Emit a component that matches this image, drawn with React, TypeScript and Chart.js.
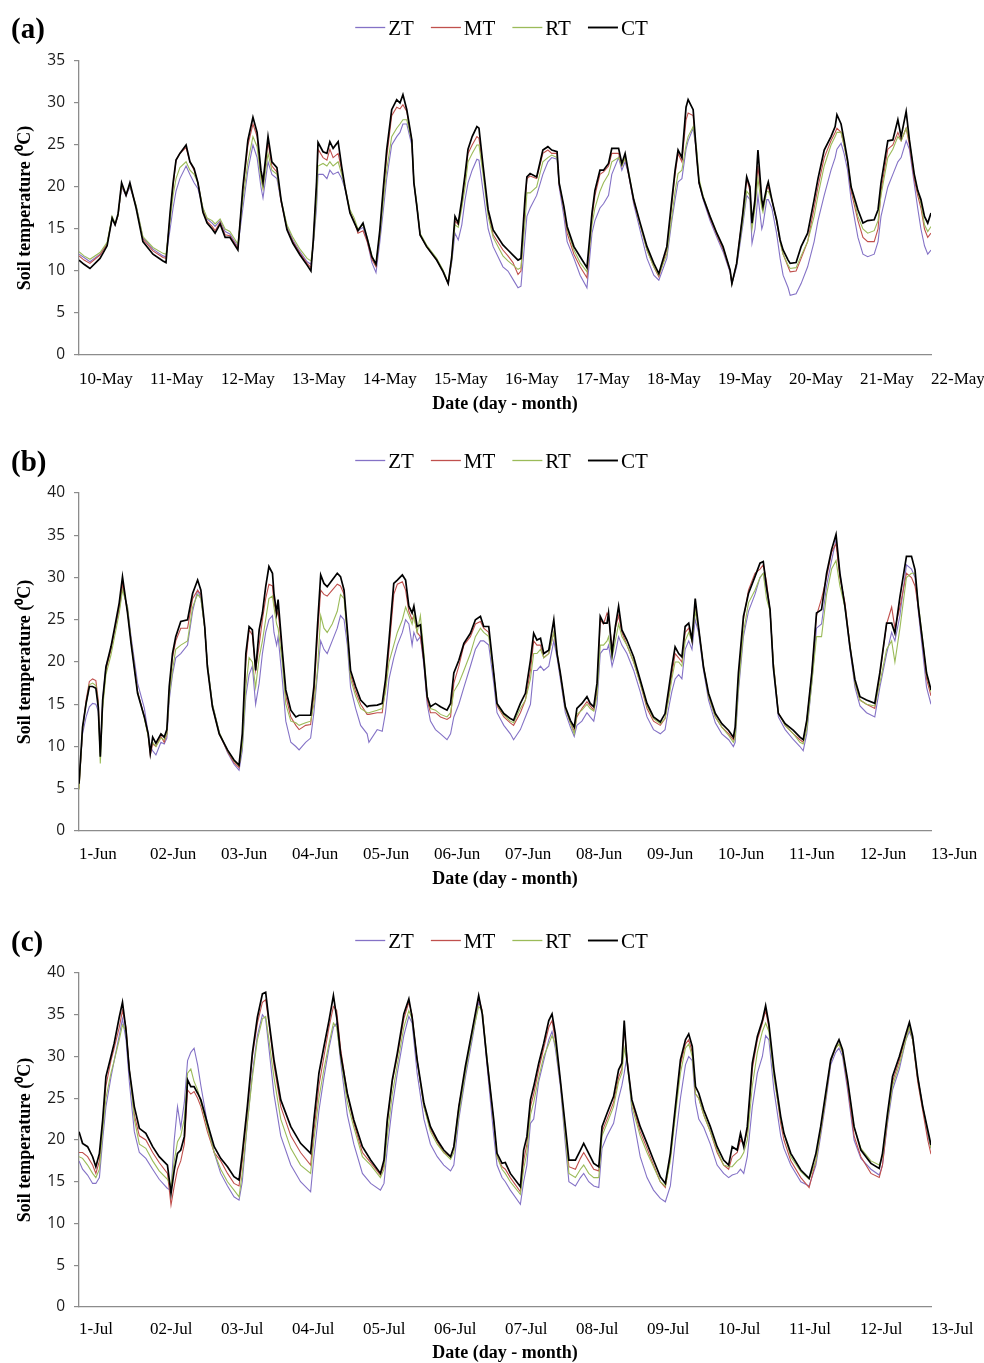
import React, { useEffect, useRef } from "react";
import { Chart, registerables } from "chart.js";

Chart.register(...registerables);

// ---------- shared ----------
const SERIES = ["ZT", "MT", "RT", "CT"];
const COLORS = ["#8472C6", "#C0504D", "#9BBB59", "#000000"];
const WIDTHS = [1.1, 1.1, 1.1, 1.7];
const Y_TITLE = "Soil temperature (\u2070C)";
const X_TITLE = "Date (day - month)";

// ---------- panel (a) ----------
const DATES_A = ["10-May", "11-May", "12-May", "13-May", "14-May", "15-May", "16-May", "17-May", "18-May", "19-May", "20-May", "21-May", "22-May"];
const HOURS_A = [
  0, 1.7, 3.7, 7.1, 9.5, 11.2, 12.2, 13.2, 14.4, 15.9,
  17.2, 19.3, 21.6, 25, 28.4, 29.4, 30.8, 31.8, 32.8, 34.1,
  36.2, 37.5, 38.9, 40.2, 41.9, 43.3, 45, 46, 47.7, 49.4,
  51, 53.7, 55.4, 57.1, 58.8, 60.2, 61.5, 62.2, 63.9, 65.2,
  66.9, 68.3, 70.3, 72.3, 74.7, 77.1, 78.4, 79.2, 80.3, 80.8,
  82.5, 83.8, 84.8, 85.9, 87.6, 88.8, 89.9, 91.6, 93, 94.3,
  96, 97.4, 99, 100.4, 101.7, 102.8, 104, 105.7, 107.4, 108.5,
  109.5, 110.8, 112.5, 113.2, 114.2, 115.3, 117.5, 120.9, 123.1, 124.8,
  126, 127.1, 128.2, 129.4, 130.5, 131.5, 132.9, 134.5, 135.2, 136.6,
  138.3, 140, 143.3, 145, 146.7, 148.4, 149.4, 150.8, 151.4, 152.5,
  154.7, 156.8, 158.5, 159.8, 161.6, 162.3, 163.9, 165, 167.3, 169.4,
  171.7, 173.4, 174.4, 176.1, 177.3, 179, 180.1, 182.4, 183.5, 184.6,
  185.8, 187.5, 189.7, 192, 194.3, 196, 198.7, 200.4, 201.5, 202.5,
  203.8, 205.2, 205.9, 207.6, 208.8, 209.6, 210.9, 213.3, 215.6, 217.7,
  220.1, 220.7, 222.3, 224.4, 225.7, 226.8, 227.5, 228.5, 229.5, 230.8,
  231.2, 232.5, 233, 234.2, 235.8, 237, 238, 239.7, 240.4, 242.4,
  244.1, 246.3, 248.5, 249.8, 251.9, 254.2, 255.6, 256.2, 257.6, 258.6,
  259.8, 261, 263.3, 265, 266.6, 268.8, 270.1, 271.1, 273.4, 275.1,
  276.8, 277.9, 279.6, 280.7, 282.3, 283.5, 284.6, 285.8, 286.9, 288,
];
const CT_A = [
  11.3, 10.8, 10.3, 11.5, 13.0, 16.3, 15.5, 16.8, 20.5, 19.0,
  20.5, 17.5, 13.5, 12.0, 11.2, 11.0, 17.0, 20.5, 23.2, 24.0,
  25.0, 23.0, 22.2, 20.5, 17.0, 15.7, 15.0, 14.5, 15.6, 14.0,
  14.0, 12.5, 20.0, 25.6, 28.3, 26.5, 22.0, 20.6, 26.0, 23.0,
  22.3, 18.5, 14.9, 13.3, 11.9, 10.7, 10.0, 13.7, 20.6, 25.3,
  24.2, 24.0, 25.4, 24.6, 25.4, 22.4, 20.0, 16.9, 15.8, 14.8,
  15.7, 13.9, 11.7, 10.8, 14.9, 19.6, 24.4, 29.2, 30.4, 30.0,
  31.0, 29.2, 25.6, 20.5, 17.7, 14.3, 12.9, 11.3, 9.9, 8.5,
  11.7, 16.5, 15.7, 18.5, 21.5, 24.5, 26.0, 27.2, 27.0, 22.5,
  17.3, 14.9, 13.1, 12.5, 11.9, 11.3, 11.5, 18.8, 21.2, 21.6,
  21.2, 24.4, 24.8, 24.4, 24.2, 20.5, 17.7, 15.3, 12.9, 11.7,
  10.4, 16.9, 19.6, 22.0, 22.0, 22.8, 24.6, 24.6, 22.8, 24.0,
  21.6, 18.5, 15.7, 12.9, 10.9, 9.7, 12.9, 18.5, 22.0, 24.4,
  23.5, 29.5, 30.4, 29.2, 23.6, 20.5, 18.8, 16.5, 14.5, 12.9,
  10.1, 8.5, 10.9, 16.9, 21.2, 20.0, 15.7, 18.5, 24.4, 18.5,
  17.7, 20.0, 20.6, 18.5, 16.1, 13.7, 12.5, 11.3, 10.9, 11.0,
  12.9, 14.5, 18.5, 21.0, 24.4, 26.0, 27.2, 28.6, 27.5, 25.6,
  23.2, 20.0, 17.3, 15.7, 16.0, 16.1, 17.3, 20.5, 25.5, 25.6,
  28.0, 26.0, 29.0, 25.6, 21.6, 19.6, 18.5, 16.5, 15.7, 16.9,
];
const MT_A = [
  11.8, 11.3, 10.9, 11.9, 13.2, 16.3, 15.5, 16.6, 20.2, 19.0,
  20.3, 17.6, 13.8, 12.4, 11.6, 11.5, 16.5, 20.0, 23.2, 24.0,
  24.7, 23.0, 22.0, 20.5, 17.2, 15.9, 15.3, 14.8, 15.8, 14.3,
  14.2, 12.7, 19.5, 25.0, 27.5, 26.0, 21.5, 20.0, 25.3, 22.5,
  21.8, 18.3, 15.0, 13.5, 12.1, 10.9, 10.4, 13.5, 20.0, 24.5,
  23.5, 23.2, 24.5, 23.5, 24.0, 22.0, 20.0, 17.0, 15.9, 14.5,
  14.8, 13.5, 11.4, 10.5, 14.5, 19.0, 23.5, 28.5, 29.5, 29.3,
  29.8, 29.0, 25.5, 20.5, 17.7, 14.3, 12.9, 11.3, 9.9, 8.5,
  11.5, 16.0, 15.5, 18.0, 21.0, 24.0, 25.0, 26.0, 25.8, 22.0,
  17.0, 14.3, 12.5, 11.8, 11.0, 9.6, 10.0, 18.0, 21.0, 21.3,
  21.0, 24.0, 24.4, 24.0, 24.0, 20.3, 17.3, 14.5, 12.0, 10.5,
  9.2, 16.3, 19.0, 21.5, 21.8, 22.5, 24.0, 24.0, 22.5, 23.5,
  21.5, 18.3, 15.5, 12.5, 10.5, 9.3, 12.5, 18.0, 21.5, 24.0,
  23.0, 28.0, 28.8, 28.5, 23.5, 20.5, 18.8, 16.3, 14.3, 12.6,
  10.0, 8.5, 10.9, 16.9, 21.0, 19.5, 15.5, 18.0, 22.5, 18.0,
  17.5, 19.8, 20.0, 18.5, 16.0, 13.5, 12.0, 10.5, 9.9, 10.0,
  11.5, 13.5, 17.5, 20.0, 23.5, 25.5, 26.5, 27.0, 26.5, 25.0,
  23.0, 19.5, 16.0, 14.0, 13.5, 13.5, 15.0, 19.5, 24.5, 25.0,
  26.5, 25.5, 27.0, 25.0, 21.0, 19.0, 17.5, 15.0, 14.0, 14.5,
];
const RT_A = [
  12.3, 11.8, 11.4, 12.2, 13.4, 16.5, 15.7, 16.6, 20.2, 19.2,
  20.2, 17.8, 14.1, 12.8, 12.1, 12.0, 16.0, 19.0, 21.0, 22.3,
  23.0, 22.0, 21.5, 20.5, 17.5, 16.3, 16.0, 15.6, 16.2, 15.0,
  14.7, 13.2, 18.5, 23.0, 26.0, 24.8, 21.0, 19.8, 24.0, 22.0,
  21.5, 18.5, 15.5, 14.0, 12.6, 11.5, 11.2, 13.2, 18.5, 22.5,
  22.8, 22.5, 23.0, 22.5, 23.0, 21.5, 20.0, 17.3, 16.3, 15.0,
  15.5, 14.0, 11.8, 10.8, 14.3, 18.0, 22.0, 26.0, 27.0, 27.5,
  28.0, 28.0, 25.5, 20.8, 18.0, 14.5, 13.1, 11.5, 10.1, 8.6,
  11.3, 15.5, 15.2, 17.5, 20.0, 23.0, 24.0, 25.0, 25.0, 21.5,
  16.5, 14.0, 11.8, 11.2, 10.7, 10.2, 10.4, 16.0, 19.3, 19.3,
  20.0, 23.0, 23.5, 23.8, 23.5, 20.5, 17.5, 15.0, 12.5, 11.0,
  9.9, 15.5, 17.5, 19.5, 20.5, 21.5, 23.0, 23.5, 22.5, 23.5,
  21.8, 18.5, 15.5, 12.5, 10.5, 9.5, 12.0, 16.5, 19.5, 21.6,
  22.0, 25.0, 26.0, 27.2, 24.5, 21.0, 19.0, 16.5, 14.5, 12.8,
  10.1, 8.5, 10.8, 16.0, 19.5, 19.0, 15.0, 17.5, 21.0, 17.5,
  17.0, 19.5, 19.5, 18.5, 16.0, 13.5, 12.0, 10.7, 10.3, 10.4,
  11.8, 13.5, 16.5, 19.0, 22.5, 25.0, 26.0, 26.5, 26.5, 25.0,
  23.0, 20.0, 16.5, 15.0, 14.5, 14.8, 16.0, 19.0, 23.5, 24.5,
  26.0, 25.5, 27.0, 25.5, 21.5, 19.5, 18.0, 15.5, 14.7, 15.3,
];
const ZT_A = [
  12.0, 11.6, 11.1, 12.0, 13.2, 16.3, 15.5, 16.6, 20.0, 19.0,
  20.0, 17.8, 14.0, 12.6, 11.8, 11.7, 15.0, 17.5, 19.5, 21.0,
  22.5, 21.5, 20.5, 19.8, 17.5, 16.2, 15.7, 15.3, 16.0, 14.7,
  14.4, 12.9, 17.5, 22.0, 25.0, 23.5, 20.0, 18.7, 23.0, 21.5,
  21.0, 18.3, 15.3, 13.7, 12.3, 11.1, 10.8, 13.0, 17.5, 21.5,
  21.5, 21.0, 22.0, 21.5, 21.8, 21.0, 19.8, 17.0, 16.0, 14.8,
  15.2, 13.6, 11.0, 9.8, 13.5, 17.0, 21.0, 25.0, 26.0, 26.5,
  27.5, 27.5, 25.0, 20.5, 17.8, 14.3, 13.0, 11.4, 10.0, 8.5,
  11.0, 14.5, 13.7, 15.5, 18.5, 20.5, 22.0, 23.3, 23.2, 19.5,
  15.0, 12.9, 10.5, 10.0, 9.0, 8.0, 8.2, 14.0, 16.5, 17.5,
  19.0, 21.5, 23.0, 23.5, 23.3, 20.0, 16.5, 13.5, 11.5, 9.5,
  8.0, 14.5, 16.0, 17.5, 18.0, 19.0, 21.5, 23.5, 22.0, 23.0,
  21.5, 18.0, 14.8, 11.5, 9.5, 8.9, 11.5, 16.0, 18.5, 20.6,
  21.0, 24.5, 25.5, 27.0, 24.0, 20.5, 18.6, 16.0, 14.0, 12.3,
  9.8, 8.5, 10.5, 15.5, 19.0, 18.5, 13.3, 15.0, 19.0, 15.0,
  15.5, 18.5, 18.5, 17.5, 14.5, 11.5, 9.5, 8.0, 7.1, 7.3,
  8.5, 10.5, 13.5, 16.0, 19.0, 22.0, 23.5, 24.5, 25.2, 24.0,
  22.0, 18.5, 14.0, 12.0, 11.7, 12.0, 13.5, 16.5, 20.0, 21.5,
  23.0, 23.5, 25.5, 24.5, 20.5, 17.5, 15.0, 13.0, 12.0, 12.5,
];

// ---------- panel (b) ----------
const DATES_B = ["1-Jun", "02-Jun", "03-Jun", "04-Jun", "05-Jun", "06-Jun", "07-Jun", "08-Jun", "09-Jun", "10-Jun", "11-Jun", "12-Jun", "13-Jun"];
const HOURS_B = [
  0, 1.2, 2.4, 3.5, 4.6, 5.7, 6.5, 7.2, 8, 9.1,
  10.8, 11.9, 13.6, 14.7, 16.4, 17.6, 19.8, 22.1, 23.4, 24.1,
  24.9, 26, 27.7, 28.8, 29.7, 30.5, 31.6, 32.7, 34.4, 36.7,
  38.4, 40.1, 41.2, 42.5, 43.4, 45.1, 47.4, 50.2, 52.4, 54.1,
  55.2, 56.4, 57.5, 58.6, 59.7, 60.9, 62, 63.1, 64.2, 65.4,
  65.9, 66.8, 67.3, 68.7, 69.9, 71.6, 73.3, 74.4, 76.6, 78.3,
  79.4, 80.6, 81.7, 82.8, 83.9, 85.6, 87.3, 88.4, 89.6, 90.7,
  91.8, 93.5, 95.2, 97.4, 98, 100.8, 102.5, 103.6, 104.8, 106.4,
  107.6, 109.3, 110.4, 111.5, 112.6, 113.2, 114.3, 115.4, 116.6, 117.7,
  118.8, 120.5, 122.2, 124.4, 125.6, 126.7, 128.4, 130.1, 132.3, 134,
  135.7, 136.8, 138.5, 140.2, 141.3, 143.6, 145.8, 146.9, 149.2, 150.9,
  152.6, 153.7, 154.8, 156, 157.1, 158.8, 160.5, 161.6, 162.7, 164.4,
  166.1, 167.4, 168.3, 170, 171.7, 172.8, 174, 175.1, 176.2, 177.3,
  178.5, 179, 180.2, 181.3, 182.4, 183.5, 185.2, 187.5, 189.7, 192,
  194.2, 196.5, 198.1, 199.3, 200.4, 201.5, 202.7, 203.8, 204.9, 206.1,
  207.2, 208.3, 209.4, 211.1, 212.8, 215.1, 217.3, 219.6, 221.2, 221.8,
  222.9, 224.6, 226.3, 228.5, 230.2, 231.3, 232.4, 233.6, 234.7, 236.4,
  238.7, 241.5, 243.7, 244.8, 246, 247.7, 249.3, 251, 252.7, 254.4,
  255.9, 257.2, 258.9, 260.6, 262.3, 264, 266.2, 269, 270.7, 273,
  274.7, 275.8, 277.5, 279.7, 281.4, 282.6, 283.7, 285.4, 286.5, 288,
];
const CT_B = [
  5.6, 12.3, 15.1, 17.1, 17.1, 16.9, 14.7, 8.8, 15.5, 19.4,
  21.8, 23.8, 27.0, 30.1, 25.8, 22.2, 16.3, 13.5, 11.5, 9.2,
  11.1, 10.4, 11.5, 11.1, 12.0, 17.1, 21.0, 23.0, 24.8, 25.0,
  28.1, 29.7, 28.5, 24.2, 19.4, 14.7, 11.5, 9.6, 8.4, 7.8,
  11.5, 21.0, 24.2, 23.8, 19.0, 23.8, 25.8, 28.9, 31.3, 30.5,
  28.1, 25.8, 27.4, 21.4, 16.7, 14.3, 13.5, 13.7, 13.7, 13.7,
  17.1, 24.2, 30.3, 29.3, 28.9, 29.7, 30.5, 30.1, 28.5, 23.8,
  19.0, 17.1, 15.5, 14.7, 14.8, 14.9, 15.1, 17.9, 22.6, 29.3,
  29.7, 30.3, 29.7, 26.6, 25.8, 26.6, 24.2, 24.4, 20.2, 15.9,
  14.7, 15.1, 14.7, 14.3, 15.1, 18.7, 20.2, 22.2, 23.4, 25.0,
  25.4, 24.2, 24.2, 18.7, 15.1, 13.9, 13.3, 13.1, 15.1, 16.3,
  20.2, 23.4, 22.6, 22.8, 21.0, 21.4, 25.0, 21.0, 18.7, 14.7,
  13.1, 12.3, 14.5, 15.1, 15.9, 15.1, 14.7, 17.5, 25.4, 24.6,
  24.6, 25.8, 21.0, 24.2, 26.6, 23.8, 22.6, 20.6, 17.9, 15.1,
  13.5, 12.9, 13.9, 16.7, 19.4, 21.8, 21.0, 20.6, 24.2, 24.6,
  22.6, 27.5, 24.2, 19.4, 16.3, 13.9, 12.7, 11.9, 11.1, 12.3,
  18.7, 25.4, 28.1, 30.1, 31.7, 31.9, 28.9, 26.2, 19.4, 13.9,
  12.7, 11.9, 11.1, 10.8, 13.1, 18.7, 25.8, 26.2, 30.5, 33.3,
  35.1, 30.5, 26.6, 21.8, 17.9, 15.9, 15.5, 15.1, 18.7, 24.6,
  24.6, 23.4, 27.7, 32.5, 32.5, 30.9, 26.6, 21.8, 18.7, 16.7,
];
const MT_B = [
  5.0, 12.0, 15.5, 17.7, 18.0, 17.8, 15.5, 9.2, 15.0, 19.0,
  21.5, 23.5, 26.5, 29.2, 26.0, 22.5, 16.5, 13.5, 11.3, 9.0,
  10.3, 10.0, 11.2, 10.5, 11.5, 16.5, 20.5, 22.5, 24.0, 24.0,
  27.5, 28.5, 28.0, 24.0, 19.5, 14.7, 11.5, 9.4, 8.1, 7.5,
  11.0, 20.0, 23.8, 23.2, 19.0, 22.0, 25.0, 27.5, 29.2, 29.0,
  27.0, 25.5, 26.0, 21.0, 16.0, 13.5, 12.5, 12.0, 12.5, 12.6,
  16.0, 23.0, 28.5, 28.0, 27.8, 28.5, 29.2, 29.0, 28.0, 23.5,
  18.5, 16.5, 15.0, 13.8, 13.8, 14.0, 14.0, 17.0, 21.5, 28.0,
  29.2, 29.5, 28.5, 26.0, 25.0, 25.5, 23.5, 23.0, 20.0, 15.5,
  14.0, 14.0, 13.5, 13.2, 13.5, 17.5, 19.5, 22.0, 23.0, 24.5,
  24.8, 24.0, 23.5, 18.5, 14.8, 13.5, 12.8, 12.5, 14.0, 15.5,
  19.0, 22.5, 22.0, 22.0, 20.5, 21.0, 23.5, 21.0, 18.5, 14.5,
  12.8, 11.8, 13.5, 14.5, 15.3, 14.8, 14.3, 16.5, 25.0, 24.5,
  25.8, 25.5, 21.5, 24.0, 25.5, 23.5, 22.0, 20.0, 17.5, 14.5,
  13.0, 12.5, 13.3, 16.0, 18.5, 21.0, 20.5, 20.0, 23.5, 24.0,
  22.5, 26.5, 24.0, 19.5, 16.0, 13.5, 12.3, 11.5, 10.8, 11.5,
  18.0, 25.0, 28.5, 30.5, 31.0, 31.5, 29.5, 26.0, 20.0, 14.0,
  12.5, 11.5, 10.8, 10.5, 13.0, 18.5, 25.5, 27.5, 30.0, 33.0,
  34.0, 30.0, 27.0, 22.0, 17.5, 15.5, 15.0, 14.5, 18.5, 24.5,
  26.5, 24.0, 26.5, 30.5, 30.0, 29.0, 26.5, 21.5, 18.0, 16.0,
];
const RT_B = [
  4.9, 12.0, 15.0, 17.3, 17.5, 17.2, 15.0, 8.0, 14.5, 18.5,
  20.8, 22.8, 25.8, 28.5, 26.5, 22.5, 16.5, 13.3, 11.2, 9.5,
  10.5, 10.0, 11.0, 10.8, 11.5, 16.0, 19.0, 21.5, 22.0, 22.5,
  26.5, 28.0, 27.5, 24.0, 19.8, 15.0, 11.7, 9.5, 8.3, 7.7,
  10.0, 17.0, 20.5, 20.0, 17.0, 20.5, 22.5, 25.0, 27.5, 27.8,
  26.5, 24.5, 24.0, 20.0, 15.0, 13.0, 12.8, 12.5, 12.8, 13.0,
  15.0, 19.0, 25.5, 24.0, 23.5, 24.5, 26.0, 28.0, 27.5, 23.0,
  18.0, 16.0, 14.5, 14.0, 14.0, 14.3, 14.5, 16.5, 20.0, 22.0,
  23.5, 25.0, 26.5, 25.5, 24.5, 25.5, 23.5, 25.5, 21.0, 16.0,
  14.5, 14.3, 13.8, 13.5, 14.0, 16.5, 17.5, 19.0, 21.0, 23.0,
  24.0, 23.5, 23.0, 18.5, 15.0, 13.7, 13.0, 12.8, 14.5, 15.5,
  18.0, 21.0, 21.0, 21.5, 20.5, 21.0, 23.5, 21.0, 18.5, 14.5,
  12.8, 11.5, 13.8, 14.3, 15.0, 14.5, 14.2, 16.0, 22.0, 22.0,
  22.5, 23.0, 20.5, 22.5, 24.5, 23.0, 22.0, 20.0, 17.5, 14.8,
  13.3, 12.7, 13.3, 15.5, 18.0, 20.0, 20.0, 19.5, 22.5, 23.5,
  22.5, 26.0, 24.0, 19.5, 16.0, 13.5, 12.3, 11.3, 10.5, 11.0,
  17.0, 23.5, 27.0, 28.5, 30.0, 30.5, 27.5, 26.0, 20.0, 14.0,
  12.5, 11.5, 10.5, 10.3, 12.0, 17.5, 23.0, 23.0, 28.0, 31.0,
  32.0, 29.0, 26.5, 22.0, 17.5, 15.5, 15.0, 14.8, 17.5, 21.5,
  22.5, 20.0, 24.0, 30.0, 30.5, 30.5, 27.0, 22.0, 18.5, 16.5,
];
const ZT_B = [
  5.5, 11.5, 13.5, 14.7, 15.1, 15.0, 14.2, 9.5, 15.5, 19.5,
  21.5, 23.5, 26.2, 28.8, 26.5, 23.0, 17.5, 14.5, 11.5, 10.0,
  9.5, 9.0, 10.5, 10.3, 11.0, 15.5, 18.5, 20.5, 21.0, 22.0,
  26.0, 28.5, 27.5, 24.0, 19.8, 15.0, 11.7, 9.3, 7.9, 7.2,
  9.5, 16.0, 18.5, 19.5, 15.0, 17.5, 21.0, 23.5, 25.0, 25.5,
  23.5, 22.0, 23.0, 18.0, 13.0, 10.5, 10.0, 9.6, 10.5, 11.0,
  14.0, 18.5, 22.5, 21.5, 21.0, 22.5, 24.0, 25.5, 25.0, 22.0,
  17.0, 14.5, 12.5, 11.5, 10.5, 12.0, 11.8, 14.0, 18.0, 20.5,
  22.0, 23.5, 25.0, 24.5, 22.0, 23.5, 22.5, 23.0, 19.5, 15.0,
  13.0, 12.0, 11.5, 10.8, 11.5, 13.5, 15.0, 17.0, 19.5, 21.5,
  22.5, 22.5, 22.0, 17.5, 14.0, 12.5, 11.5, 10.8, 12.0, 13.5,
  15.0, 19.0, 19.0, 19.5, 19.0, 19.5, 22.5, 20.5, 18.0, 14.0,
  12.3, 11.2, 12.5, 13.0, 14.0, 13.5, 13.0, 15.0, 21.0, 21.5,
  21.5, 22.0, 19.5, 21.0, 23.0, 22.0, 21.0, 19.0, 16.5, 13.5,
  12.0, 11.5, 12.0, 14.5, 16.5, 18.0, 18.5, 18.0, 21.5, 22.5,
  21.5, 25.0, 23.5, 19.0, 15.5, 12.8, 11.5, 10.8, 10.0, 10.5,
  16.5, 23.0, 26.0, 28.0, 30.0, 30.5, 28.5, 26.0, 19.5, 13.5,
  12.0, 10.8, 10.0, 9.5, 11.5, 17.5, 24.0, 24.5, 29.0, 32.0,
  34.5, 30.5, 26.5, 21.5, 17.0, 14.8, 14.0, 13.5, 17.0, 21.0,
  23.5, 22.5, 25.5, 31.5, 31.0, 30.0, 26.0, 20.5, 17.0, 15.0,
];

// ---------- panel (c) ----------
const DATES_C = ["1-Jul", "02-Jul", "03-Jul", "04-Jul", "05-Jul", "06-Jul", "07-Jul", "08-Jul", "09-Jul", "10-Jul", "11-Jul", "12-Jul", "13-Jul"];
const HOURS_C = [
  0, 1.2, 2.9, 4.6, 5.7, 6.9, 8, 9.1, 10.8, 11.9,
  13.6, 14.7, 15.9, 17, 18.7, 20.4, 22.6, 24.9, 27.1, 29.9,
  31.1, 32.2, 33.3, 34.4, 35.6, 36.7, 37.8, 38.9, 40.1, 41.2,
  43.4, 45.7, 47.9, 50.2, 52.4, 54.1, 55.2, 56.9, 58.6, 60.3,
  62, 63.1, 64.2, 65.9, 68.2, 71.6, 74.9, 78.3, 79.4, 81.1,
  82.8, 84.5, 86, 87.1, 88.4, 90.7, 92.9, 95.8, 98.6, 101.9,
  103.1, 104.2, 105.9, 107.6, 109.8, 111.5, 112.6, 114.3, 116.6, 118.8,
  121.1, 123.3, 125.6, 126.7, 128.4, 130.6, 132.9, 135.1, 136.3, 137.9,
  140.2, 141.3, 143, 144.1, 145.8, 149.2, 150.3, 151.4, 152.6, 153.7,
  155.4, 157.1, 158.8, 159.9, 161, 162.7, 164.4, 165.6, 167.8, 169.5,
  170.6, 172.3, 174, 175.7, 176.8, 178.5, 180.7, 182.4, 183.5, 184.3,
  185.2, 186.9, 189.7, 192, 194.2, 196.5, 198.2, 199.9, 201.6, 203.3,
  205, 206.1, 207.3, 208.4, 209.5, 211.2, 213.4, 215.7, 217.9, 219.6,
  220.8, 222.5, 223.6, 224.7, 225.9, 227.6, 229.3, 231, 232.1, 233.2,
  234.9, 237.2, 238.3, 240.6, 244, 246.8, 249.1, 250.7, 252.4, 254.1,
  255.8, 256.9, 258.1, 259.8, 262, 264.3, 267.7, 270.5, 271.6, 273.3,
  275, 277.3, 279.5, 280.7, 281.8, 283.5, 285.2, 286.9, 288,
];
const CT_C = [
  21.0, 19.6, 19.2, 18.0, 16.8, 18.4, 22.4, 27.6, 30.0, 31.6,
  34.7, 36.5, 33.1, 28.4, 24.0, 21.4, 20.8, 19.2, 18.0, 17.0,
  13.6, 16.4, 18.4, 18.8, 20.4, 27.2, 26.4, 26.4, 25.6, 24.8,
  22.0, 19.2, 17.8, 16.8, 15.6, 15.2, 18.4, 24.0, 30.4, 34.7,
  37.5, 37.7, 34.3, 29.6, 24.8, 21.6, 19.6, 18.4, 22.4, 28.0,
  31.2, 34.3, 37.3, 34.7, 30.4, 25.6, 22.4, 19.2, 17.6, 16.0,
  17.6, 22.4, 27.2, 30.4, 35.1, 36.9, 34.7, 29.6, 24.4, 21.6,
  20.0, 18.8, 18.0, 19.2, 24.0, 28.8, 33.1, 37.3, 35.1, 29.6,
  22.4, 18.4, 17.2, 17.3, 16.0, 14.4, 18.8, 20.4, 24.8, 26.4,
  29.2, 31.6, 34.3, 35.1, 32.7, 27.2, 21.6, 17.6, 17.6, 18.8,
  19.6, 18.4, 17.2, 16.8, 21.6, 23.2, 25.2, 28.4, 29.2, 34.3,
  29.6, 24.8, 21.6, 19.6, 17.6, 15.6, 14.8, 18.4, 24.0, 29.6,
  32.0, 32.7, 31.2, 26.4, 25.6, 23.6, 21.6, 19.2, 17.6, 17.0,
  19.2, 18.8, 20.8, 19.2, 21.6, 29.2, 32.4, 34.3, 36.1, 33.9,
  28.4, 22.8, 20.8, 18.4, 16.4, 15.4, 18.4, 21.6, 25.6, 29.6,
  31.2, 32.0, 30.8, 27.2, 21.6, 18.8, 17.2, 16.6, 18.4, 23.2,
  27.6, 30.0, 32.7, 34.1, 32.4, 27.6, 24.0, 21.2, 19.4,
];
const MT_C = [
  18.5, 18.5, 18.0, 17.0, 16.0, 17.5, 22.0, 26.5, 29.5, 31.0,
  33.5, 35.5, 33.5, 28.5, 23.0, 20.5, 20.0, 18.5, 17.3, 16.0,
  12.2, 14.5, 16.5, 17.5, 19.5, 26.0, 25.5, 25.8, 25.0, 24.0,
  21.0, 18.5, 17.5, 16.0, 14.8, 14.5, 17.5, 23.5, 30.0, 34.0,
  36.5, 36.8, 34.0, 29.0, 24.0, 20.5, 18.5, 17.0, 21.0, 26.5,
  30.0, 33.5, 36.0, 35.5, 31.0, 25.5, 22.0, 18.5, 17.3, 15.8,
  17.0, 22.0, 27.0, 30.0, 34.5, 36.5, 35.0, 29.5, 24.0, 21.3,
  19.8, 18.5, 18.0, 19.0, 24.0, 28.5, 33.0, 37.0, 35.5, 29.5,
  22.0, 18.0, 16.8, 16.5, 15.5, 13.8, 17.5, 19.5, 24.0, 25.5,
  28.5, 31.0, 33.5, 34.3, 32.0, 27.0, 21.0, 16.8, 16.5, 17.8,
  18.5, 17.5, 16.5, 16.3, 21.0, 22.5, 24.5, 27.5, 28.5, 33.5,
  30.0, 24.5, 21.0, 19.0, 17.0, 15.0, 14.3, 18.0, 23.5, 29.0,
  31.5, 32.0, 30.5, 25.5, 25.0, 23.0, 21.0, 18.5, 17.0, 16.5,
  18.0, 18.5, 20.0, 19.5, 21.0, 28.5, 32.0, 34.0, 35.5, 33.5,
  28.0, 22.0, 20.0, 17.5, 15.5, 14.3, 17.5, 21.0, 25.0, 29.5,
  31.0, 31.5, 30.5, 26.5, 20.5, 18.0, 16.0, 15.5, 17.0, 22.5,
  27.0, 29.5, 32.5, 33.5, 32.0, 27.0, 23.5, 20.0, 18.3,
];
const RT_C = [
  18.0, 17.8, 17.0, 16.0, 15.5, 16.5, 21.0, 25.0, 28.0, 29.5,
  32.0, 33.8, 33.0, 28.5, 22.5, 19.5, 19.0, 17.5, 16.3, 15.3,
  14.5, 17.5, 19.8, 20.5, 22.5, 28.0, 28.5, 27.0, 26.0, 24.5,
  21.5, 18.5, 16.5, 15.0, 14.0, 13.2, 16.0, 22.0, 27.5, 32.0,
  34.5, 34.8, 32.0, 27.5, 22.5, 19.0, 17.0, 16.0, 20.0, 25.0,
  28.5, 31.5, 34.0, 33.5, 30.0, 24.5, 21.5, 18.0, 17.0, 15.5,
  16.5, 20.5, 25.5, 29.0, 33.5, 35.5, 34.5, 29.5, 24.0, 21.0,
  19.5, 18.5, 17.7, 18.5, 23.0, 28.0, 32.5, 36.0, 35.5, 30.0,
  22.0, 18.0, 16.5, 16.0, 15.0, 13.5, 16.5, 18.5, 23.0, 24.5,
  27.5, 30.0, 31.5, 32.5, 31.5, 27.0, 20.5, 16.0, 15.5, 16.5,
  17.0, 16.0, 15.5, 15.5, 20.5, 22.0, 24.0, 27.0, 28.0, 31.0,
  29.5, 24.0, 20.5, 18.5, 16.8, 15.0, 14.5, 17.5, 23.0, 28.0,
  31.0, 31.5, 30.0, 25.5, 25.0, 23.0, 21.0, 18.8, 17.0, 16.8,
  16.8, 17.5, 17.8, 18.5, 20.0, 26.5, 30.5, 33.0, 34.0, 33.0,
  27.5, 22.5, 20.8, 18.0, 16.2, 15.3, 17.5, 21.0, 25.0, 29.5,
  31.0, 31.5, 30.5, 27.0, 21.5, 19.0, 17.5, 17.0, 18.0, 22.5,
  26.5, 29.0, 32.0, 33.5, 32.0, 27.5, 24.0, 21.0, 19.0,
];
const ZT_C = [
  17.5, 16.5, 15.8, 14.8, 14.8, 15.5, 20.0, 24.0, 27.5, 29.5,
  32.5, 34.5, 32.0, 27.0, 21.0, 18.5, 17.8, 16.5, 15.3, 14.2,
  14.0, 20.0, 24.0, 21.5, 24.5, 29.5, 30.5, 31.0, 29.0, 26.5,
  22.0, 18.5, 16.0, 14.5, 13.2, 12.8, 15.0, 22.0, 28.0, 32.5,
  35.0, 34.5, 31.0, 25.5, 20.5, 17.0, 15.0, 13.8, 18.0, 23.5,
  27.5, 31.0, 33.5, 34.0, 29.5, 23.0, 19.5, 16.0, 14.8, 14.0,
  14.8, 19.0, 24.0, 28.0, 32.5, 34.8, 34.0, 28.0, 22.5, 19.5,
  18.0, 17.0, 16.3, 17.0, 22.5, 27.5, 32.0, 36.5, 35.5, 29.0,
  20.5, 17.0, 15.5, 15.0, 14.0, 12.3, 15.0, 17.0, 22.0, 22.5,
  27.0, 29.5, 32.0, 33.0, 31.0, 26.5, 19.5, 15.0, 14.5, 15.5,
  16.0, 15.0, 14.5, 14.3, 19.0, 20.5, 22.0, 25.0, 26.5, 28.0,
  30.0, 23.5, 18.0, 15.5, 14.0, 13.0, 12.6, 14.5, 20.0, 25.0,
  29.0, 30.0, 29.5, 24.5, 22.5, 21.5, 19.5, 17.0, 16.0, 15.5,
  15.8, 16.0, 16.5, 16.0, 18.0, 24.0, 28.0, 30.0, 32.5, 32.0,
  26.0, 20.5, 19.0, 17.0, 15.0, 14.5, 17.0, 20.5, 24.5, 29.0,
  30.5, 31.0, 30.0, 26.0, 20.0, 17.8, 16.5, 15.8, 17.0, 22.0,
  26.0, 28.5, 32.0, 33.0, 32.0, 27.5, 24.0, 20.5, 19.0,
];

// ---------- layout constants ----------
const X_AXIS_H = 60;
const AXIS_GRAY = "#8c8c8c";

type PanelDef = {
  letter: string;
  top: number;
  height: number;
  areaTop: number;
  areaHeight: number;
  titleGap: number;
  tickPad: number;
  yMax: number;
  dates: string[];
  hours: number[];
  series: number[][]; // ZT, MT, RT, CT
};

const PANELS: PanelDef[] = [
  { letter: "(a)", top: 0, height: 420, areaTop: 61, areaHeight: 294, titleGap: 49, tickPad: 6, yMax: 35, dates: DATES_A, hours: HOURS_A, series: [ZT_A, MT_A, RT_A, CT_A] },
  { letter: "(b)", top: 433, height: 470, areaTop: 60, areaHeight: 338, titleGap: 48, tickPad: 5, yMax: 40, dates: DATES_B, hours: HOURS_B, series: [ZT_B, MT_B, RT_B, CT_B] },
  { letter: "(c)", top: 913, height: 460, areaTop: 60, areaHeight: 334, titleGap: 46, tickPad: 4, yMax: 40, dates: DATES_C, hours: HOURS_C, series: [ZT_C, MT_C, RT_C, CT_C] },
];

const headerPlugin = {
  id: "panelHeader",
  afterDraw(chart: any, _args: any, opts: any) {
    const ctx = chart.ctx as CanvasRenderingContext2D;
    ctx.save();
    ctx.fillStyle = "#000";
    ctx.textBaseline = "alphabetic";
    ctx.textAlign = "left";
    ctx.font = 'bold 29px "Liberation Serif"';
    ctx.fillText(opts.letter, 11, 38);

    ctx.font = '21px "Liberation Serif"';
    const lineLen = 30;
    const textGap = 3;
    const itemGap = 17;
    const widths = SERIES.map((s) => lineLen + textGap + ctx.measureText(s).width);
    const total = widths.reduce((a, b) => a + b, 0) + itemGap * (SERIES.length - 1);
    let x = 501.5 - total / 2;
    const lineY = 27.5;
    SERIES.forEach((name, i) => {
      ctx.strokeStyle = COLORS[i];
      ctx.lineWidth = WIDTHS[i] + 0.2;
      ctx.beginPath();
      ctx.moveTo(x, lineY);
      ctx.lineTo(x + lineLen, lineY);
      ctx.stroke();
      ctx.fillStyle = "#000";
      ctx.fillText(name, x + lineLen + textGap, 35);
      x += widths[i] + itemGap;
    });
    ctx.restore();
  },
};

function Panel({ def }: { def: PanelDef }) {
  const ref = useRef<HTMLCanvasElement | null>(null);

  useEffect(() => {
    if (!ref.current) return;
    const bottomPad = def.height - def.areaTop - def.areaHeight - X_AXIS_H;
    const titlePadBottom = Math.max(0, X_AXIS_H - def.titleGap - 10.8);
    const datasets = SERIES.map((name, i) => ({
      label: name,
      data: def.hours.map((h, k) => ({ x: h, y: def.series[i][k] })),
      borderColor: COLORS[i],
      backgroundColor: COLORS[i],
      borderWidth: WIDTHS[i],
      pointRadius: 0,
      tension: 0,
      fill: false,
      order: 3 - i,
    }));

    const chart = new Chart(ref.current, {
      type: "line",
      data: { datasets },
      plugins: [headerPlugin],
      options: {
        responsive: false,
        animation: false,
        devicePixelRatio: 1,
        events: [],
        layout: { padding: { top: def.areaTop, bottom: bottomPad, left: 0, right: 984 - 931 } },
        plugins: {
          legend: { display: false },
          tooltip: { enabled: false },
          title: { display: false },
          panelHeader: { letter: def.letter },
        } as any,
        scales: {
          x: {
            type: "linear",
            min: 0,
            max: 288,
            afterBuildTicks: (scale: any) => {
              scale.ticks = def.dates.map((_, i) => ({ value: i * 24 }));
            },
            afterFit: (scale: any) => {
              scale.height = X_AXIS_H;
              scale.paddingLeft = 0;
              scale.paddingRight = 0;
            },
            grid: { display: false },
            border: { display: true, color: AXIS_GRAY, width: 1.3 },
            ticks: {
              autoSkip: false,
              maxRotation: 0,
              minRotation: 0,
              align: "start",
              padding: def.tickPad,
              color: "#000",
              font: { family: "Liberation Serif", size: 17 },
              callback: (v: any) => def.dates[Math.round(Number(v) / 24)] ?? "",
            },
            title: {
              display: true,
              text: X_TITLE,
              color: "#000",
              font: { family: "Liberation Serif", size: 18, weight: "bold" },
              padding: { top: 0, bottom: titlePadBottom },
            },
          },
          y: {
            min: 0,
            max: def.yMax,
            afterFit: (scale: any) => {
              scale.width = 79;
              scale.paddingTop = 0;
              scale.paddingBottom = 0;
            },
            grid: { display: true, drawOnChartArea: false, drawTicks: true, tickLength: 5, color: AXIS_GRAY, lineWidth: 1.2 },
            border: { display: true, color: AXIS_GRAY, width: 1.3 },
            ticks: {
              stepSize: 5,
              padding: 9,
              color: "#1a1a1a",
              font: { family: "Open Sans", size: 15.5 },
            },
            title: {
              display: true,
              text: Y_TITLE,
              color: "#000",
              font: { family: "Liberation Serif", size: 18, weight: "bold" },
              padding: { top: 15, bottom: 0 },
            },
          },
        },
      } as any,
    });
    return () => chart.destroy();
  }, [def]);

  return (
    <canvas
      ref={ref}
      width={984}
      height={def.height}
      style={{ position: "absolute", left: 0, top: def.top, width: 984, height: def.height }}
    />
  );
}

export default function App() {
  return (
    <div
      style={{
        position: "absolute",
        left: 0,
        top: 0,
        width: 984,
        height: 1363,
        overflow: "hidden",
        background: "#fff",
      }}
    >
      {PANELS.map((p) => (
        <Panel key={p.letter} def={p} />
      ))}
    </div>
  );
}
